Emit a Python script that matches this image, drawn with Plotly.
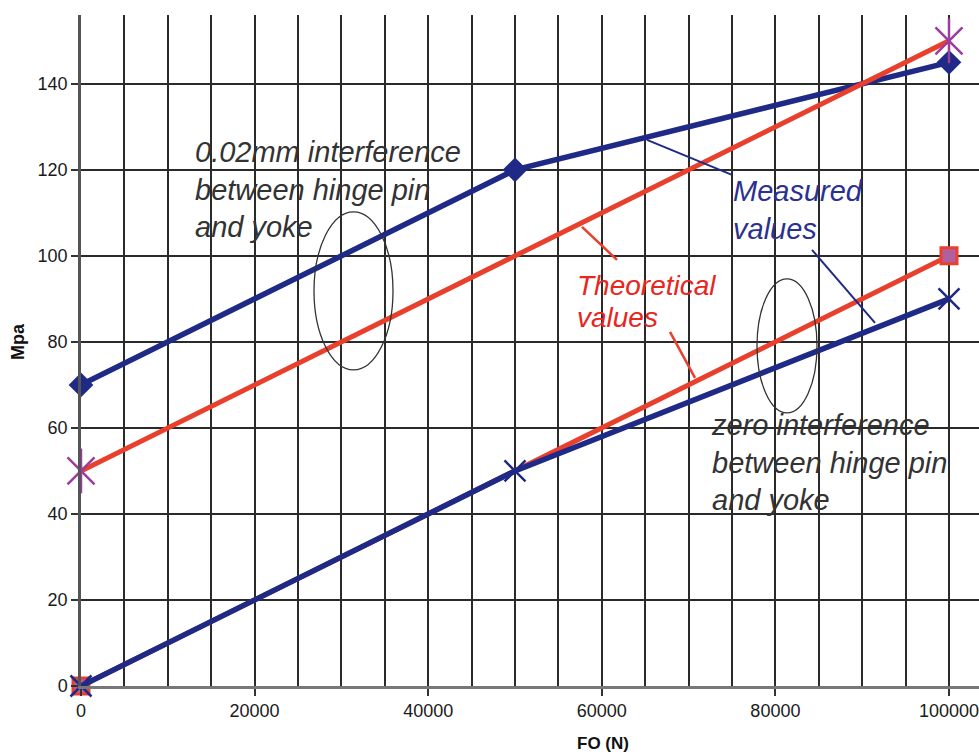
import plotly.graph_objects as go

# Applied force (N) and resulting stress (MPa)
force_measured = [0, 50000, 100000]
force_theory = [0, 100000]

measured_002 = [70, 120, 145]      # 0.02 mm interference, measured
theory_002 = [50, 150]             # 0.02 mm interference, theoretical
theory_zero = [0, 100]             # zero interference, theoretical
measured_zero = [0, 50, 90]        # zero interference, measured

x_tick_vals = [0, 20000, 40000, 60000, 80000, 100000]
y_tick_vals = [0, 20, 40, 60, 80, 100, 120, 140]

NAVY = "#1f2a86"
RED = "#e8402d"
MAGENTA = "#9c3c9c"
PURPLE = "#b0609f"

XMAX = 103456
YMAX = 156


def px_x(p):
    """Convert a horizontal pixel position to force units."""
    return (p - 81) * 100000 / 868


def px_y(p):
    """Convert a vertical pixel position to stress units."""
    return (686 - p) / 4.3


fig = go.Figure()

fig.add_trace(go.Scatter(
    x=force_measured, y=measured_002, mode="lines+markers",
    line=dict(color=NAVY, width=5.5),
    marker=dict(symbol="diamond", size=19, color=NAVY),
    cliponaxis=False, showlegend=False))

fig.add_trace(go.Scatter(
    x=force_theory, y=theory_002, mode="lines",
    line=dict(color=RED, width=5), cliponaxis=False, showlegend=False))
# six-armed asterisk: an x plus a vertical stroke
fig.add_trace(go.Scatter(
    x=force_theory, y=theory_002, mode="markers",
    marker=dict(symbol="x-thin", size=27, color=MAGENTA,
                line=dict(color=MAGENTA, width=2.5)),
    cliponaxis=False, showlegend=False))
fig.add_trace(go.Scatter(
    x=force_theory, y=theory_002, mode="markers",
    marker=dict(symbol="line-ns", size=32, color=MAGENTA,
                line=dict(color=MAGENTA, width=2.5)),
    cliponaxis=False, showlegend=False))

fig.add_trace(go.Scatter(
    x=force_theory, y=theory_zero, mode="lines+markers",
    line=dict(color=RED, width=5),
    marker=dict(symbol="square", size=16, color=PURPLE, line=dict(color=RED, width=3)),
    cliponaxis=False, showlegend=False))

fig.add_trace(go.Scatter(
    x=force_measured, y=measured_zero, mode="lines+markers",
    line=dict(color=NAVY, width=5.5),
    marker=dict(symbol="x-thin", size=21, color=NAVY,
                line=dict(color=NAVY, width=2.5)),
    cliponaxis=False, showlegend=False))

TEXT_FONT = "Liberation Sans, Arial, Helvetica, sans-serif"

annotations = [
    dict(x=px_x(193), y=px_y(190), xanchor="left", yanchor="middle", align="left",
         text="<i>0.02mm interference<br>between hinge pin<br>and yoke</i>",
         font=dict(family=TEXT_FONT, size=29, color="#333333")),
    dict(x=px_x(731), y=px_y(210), xanchor="left", yanchor="middle", align="left",
         text="<i>Measured<br>values</i>",
         font=dict(family=TEXT_FONT, size=29, color="#2b3190")),
    dict(x=px_x(575), y=px_y(286), xanchor="left", yanchor="middle", align="left",
         text="<i>Theoretical</i>",
         font=dict(family=TEXT_FONT, size=28, color="#e8261e")),
    dict(x=px_x(575), y=px_y(318), xanchor="left", yanchor="middle", align="left",
         text="<i>values</i>",
         font=dict(family=TEXT_FONT, size=28, color="#e8261e")),
    dict(x=px_x(709), y=px_y(463), xanchor="left", yanchor="middle", align="left",
         text="<i>zero interference<br>between hinge pin<br>and yoke</i>",
         font=dict(family=TEXT_FONT, size=29, color="#333333")),
    # axis titles
    dict(xref="paper", yref="paper", x=(603 - 81) / 898, y=(686 - 744) / 671,
         xanchor="center", yanchor="middle", showarrow=False, text="<b>FO (N)</b>",
         font=dict(family=TEXT_FONT, size=17, color="#111111")),
    dict(xref="paper", yref="paper", x=(18 - 81) / 898, y=(686 - 342) / 671,
         xanchor="center", yanchor="middle", showarrow=False, text="<b>Mpa</b>",
         textangle=-90, font=dict(family=TEXT_FONT, size=18, color="#111111")),
]
for a in annotations:
    a.setdefault("showarrow", False)
fig.update_layout(annotations=annotations)

shapes = [
    # leader lines
    dict(type="line", x0=px_x(647), y0=px_y(140), x1=px_x(732), y1=px_y(175),
         line=dict(color=NAVY, width=2)),
    dict(type="line", x0=px_x(812), y0=px_y(250), x1=px_x(875), y1=px_y(323),
         line=dict(color=NAVY, width=2)),
    dict(type="line", x0=px_x(582), y0=px_y(227), x1=px_x(617), y1=px_y(260),
         line=dict(color=RED, width=2.5)),
    dict(type="line", x0=px_x(670), y0=px_y(332), x1=px_x(695), y1=px_y(378),
         line=dict(color=RED, width=2.5)),
    # grouping ellipses
    dict(type="circle", x0=px_x(314), x1=px_x(393), y0=px_y(370), y1=px_y(212),
         line=dict(color="#333333", width=1.3)),
    dict(type="circle", x0=px_x(757), x1=px_x(817), y0=px_y(413), y1=px_y(279),
         line=dict(color="#333333", width=1.3)),
]
fig.update_layout(shapes=shapes)

fig.update_xaxes(
    range=[0, XMAX], tickvals=x_tick_vals, ticktext=[str(v) for v in x_tick_vals],
    ticklabeloverflow="allow",
    showgrid=True, gridcolor="#2a2a2a", gridwidth=1.6,
    minor=dict(dtick=5000, tick0=0, showgrid=True, gridcolor="#2a2a2a", gridwidth=1.6),
    showline=True, linecolor="#777777", linewidth=2.5,
    ticks="outside", ticklen=7, tickwidth=1.5, tickcolor="#333333",
    tickfont=dict(family=TEXT_FONT, size=18, color="#1a1a1a"),
    zeroline=False)
fig.update_yaxes(
    range=[0, YMAX], tickvals=y_tick_vals,
    showgrid=True, gridcolor="#2a2a2a", gridwidth=1.6,
    showline=True, linecolor="#555555", linewidth=2.5,
    ticks="outside", ticklen=7, tickwidth=1.5, tickcolor="#333333",
    tickfont=dict(family=TEXT_FONT, size=18, color="#1a1a1a"),
    zeroline=False)

fig.update_layout(
    width=979, height=754,
    margin=dict(l=81, r=0, t=15, b=68),
    paper_bgcolor="white", plot_bgcolor="white",
    showlegend=False)

fig.write_html("out.html")
